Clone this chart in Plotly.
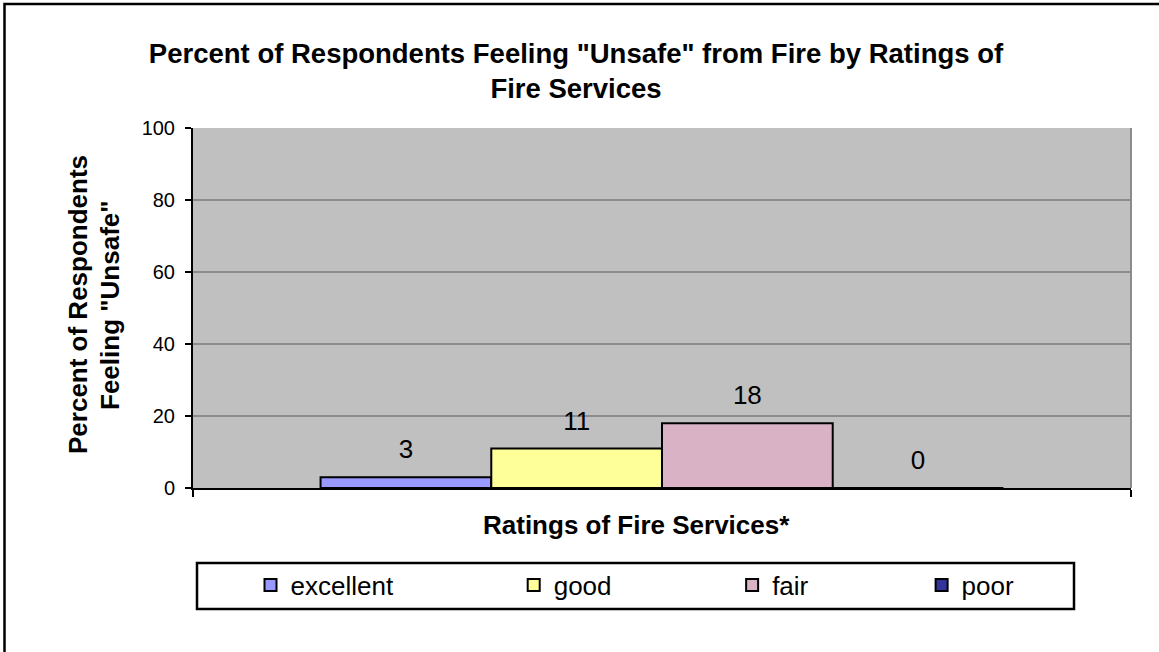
import plotly.graph_objects as go

# ---- data ----
categories = ["excellent", "good", "fair", "poor"]
values = [3, 11, 18, 0]
colors = ["#9999FF", "#FFFF99", "#D9B2C6", "#333399"]
group_label = ["Ratings of Fire Services*"]
y_ticks = [0, 20, 40, 60, 80, 100]

title_text = 'Percent of Respondents Feeling "Unsafe" from Fire by Ratings of<br>Fire Services'
x_title = "Ratings of Fire Services*"
y_title_lines = ["Percent of Respondents", 'Feeling "Unsafe"']

# legend label padding (number of no-break spaces after each name, for spacing)
legend_pad = [16, 16, 15, 0]

W, H = 1159, 652
L, R, T, B = 193, 28, 128, 164
PW, PH = W - L - R, H - T - B

def px_x(p):
    return (p - L) / PW

def px_y(p):
    return (H - B - p) / PH

FONT = "Liberation Sans, Arial, sans-serif"
GAP = 0.272

fig = go.Figure()
for name, v, c, pad in zip(categories, values, colors, legend_pad):
    fig.add_trace(go.Bar(
        x=group_label, y=[v], name=name + "\u00a0" * pad,
        marker=dict(color=c, line=dict(color="black", width=2)),
        hoverinfo="skip",
    ))
# value labels, grouped like the bars
for name, v in zip(categories, values):
    fig.add_trace(go.Scatter(
        x=group_label, y=[v], mode="markers+text", text=[str(v)],
        textposition="top center", showlegend=False, hoverinfo="skip",
        marker=dict(size=18, opacity=0),
        textfont=dict(family=FONT, size=26, color="black"),
        cliponaxis=False,
    ))

fig.update_layout(
    width=W, height=H,
    margin=dict(l=L, r=R, t=T, b=B),
    paper_bgcolor="white",
    plot_bgcolor="#C0C0C0",
    barmode="group", bargap=GAP, bargroupgap=0,
    scattermode="group", scattergap=GAP,
    font=dict(family=FONT, color="black"),
    title=dict(text="<b>" + title_text + "</b>", x=576 / W, xanchor="center",
               y=1 - 62.5 / H, yanchor="middle", yref="container",
               font=dict(family=FONT, size=27.5, color="black")),
    showlegend=True,
    legend=dict(orientation="h", x=px_x(250.5), xanchor="left",
                y=px_y(585), yanchor="middle",
                bgcolor="rgba(0,0,0,0)", borderwidth=0,
                font=dict(family=FONT, size=26, color="black"),
                traceorder="normal"),
    xaxis=dict(showticklabels=False, ticks="outside", ticklen=7, tickwidth=2,
               tickcolor="black", tickson="boundaries", showline=True,
               linecolor="black", linewidth=2, showgrid=False,
               range=[-0.5, 0.5]),
    yaxis=dict(range=[0, 100], tickvals=y_ticks, ticks="outside", ticklen=6,
               tickwidth=2, tickcolor="black", showline=True, linecolor="black",
               linewidth=2, showgrid=True, gridcolor="#8C8C8C", gridwidth=1.5,
               zeroline=False, ticklabelstandoff=6,
               tickfont=dict(family=FONT, size=20, color="black")),
)

# right plot border (gray)
fig.add_shape(type="line", xref="paper", yref="paper", x0=1, x1=1, y0=0, y1=1,
              line=dict(color="#8C8C8C", width=2))
# legend frame
fig.add_shape(type="rect", xref="paper", yref="paper",
              x0=px_x(197), x1=px_x(1074), y0=px_y(563), y1=px_y(609),
              line=dict(color="black", width=2.5), fillcolor="rgba(0,0,0,0)")
# outer chart frame
fig.add_shape(type="rect", xref="paper", yref="paper",
              x0=px_x(4.5), x1=px_x(1180), y0=px_y(4), y1=px_y(680),
              line=dict(color="black", width=2.5), fillcolor="rgba(0,0,0,0)")

# axis titles
fig.add_annotation(text="<b>" + x_title + "</b>", xref="paper", yref="paper",
                   x=px_x(636), y=px_y(525), xanchor="center", yanchor="middle",
                   showarrow=False, font=dict(family=FONT, size=26, color="black"))
for line, xc in zip(y_title_lines, [78, 110]):
    fig.add_annotation(text="<b>" + line + "</b>", xref="paper", yref="paper",
                       x=px_x(xc), y=px_y(305), xanchor="center", yanchor="middle",
                       textangle=-90, showarrow=False,
                       font=dict(family=FONT, size=26, color="black"))

fig.write_html("out.html", config={"displayModeBar": False},
               post_script="document.body.style.margin='0px';")
